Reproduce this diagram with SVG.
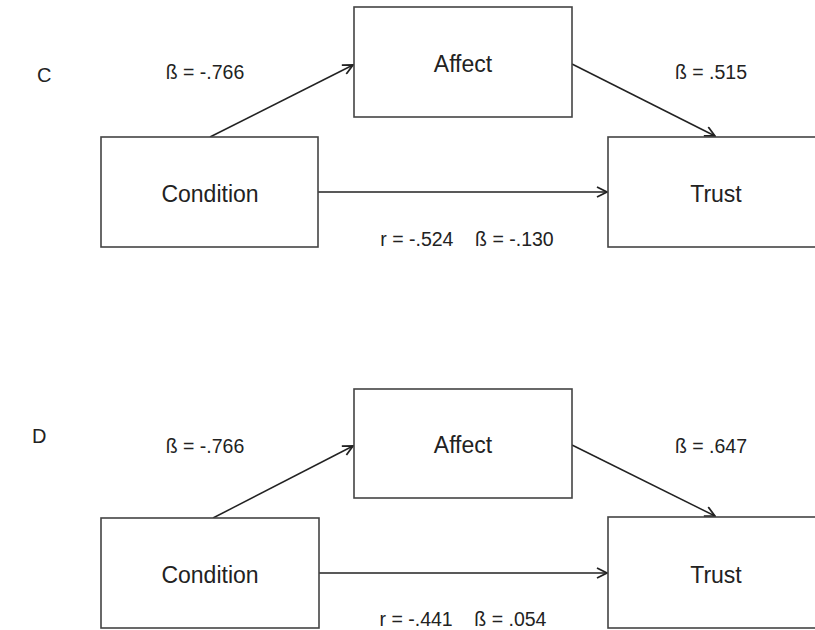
<svg xmlns="http://www.w3.org/2000/svg" width="815" height="630" viewBox="0 0 815 630">
<defs>
<marker id="ah" viewBox="0 0 12 12" refX="11" refY="6" markerWidth="12" markerHeight="12" markerUnits="userSpaceOnUse" orient="auto">
<path d="M1,1 L11,6 L1,11" fill="none" stroke="#222" stroke-width="1.8"/>
</marker>
<style>
.box{fill:#fff;stroke:#444;stroke-width:1.6}
.lbl{font-family:"Liberation Sans",Arial,sans-serif;font-size:23px;fill:#222;text-anchor:middle}
.coef{font-family:"Liberation Sans",Arial,sans-serif;font-size:19.5px;fill:#222;text-anchor:middle}
.panel{font-family:"Liberation Sans",Arial,sans-serif;font-size:20px;fill:#222}
.edge{stroke:#222;stroke-width:1.5;fill:none;marker-end:url(#ah)}
</style>
</defs>
<rect width="815" height="630" fill="#fff"/>
<text class="panel" x="37" y="82">C</text>
<text class="panel" x="32" y="443">D</text>
<g id="connectors">
<line class="edge" x1="210" y1="137" x2="353" y2="65"/>
<line class="edge" x1="572" y1="64" x2="715" y2="136"/>
<line class="edge" x1="318" y1="192" x2="607" y2="192"/>
<line class="edge" x1="213" y1="518" x2="353" y2="446"/>
<line class="edge" x1="572" y1="445" x2="715" y2="516"/>
<line class="edge" x1="319" y1="573" x2="607" y2="573"/>
</g>
<g id="condition-c"><rect class="box" x="101" y="137" width="217" height="110"/><text class="lbl" x="210" y="202">Condition</text></g>
<g id="affect-c"><rect class="box" x="354" y="7" width="218" height="110"/><text class="lbl" x="463" y="72">Affect</text></g>
<g id="trust-c"><rect class="box" x="608" y="137" width="240" height="110"/><text class="lbl" x="716" y="202">Trust</text></g>
<g id="condition-d"><rect class="box" x="101" y="518" width="218" height="110"/><text class="lbl" x="210" y="583">Condition</text></g>
<g id="affect-d"><rect class="box" x="354" y="389" width="218" height="109"/><text class="lbl" x="463" y="453">Affect</text></g>
<g id="trust-d"><rect class="box" x="608" y="517" width="240" height="111"/><text class="lbl" x="716" y="583">Trust</text></g>
<g id="labels">
<text class="coef" x="205" y="79">ß = -.766</text>
<text class="coef" x="711" y="79">ß = .515</text>
<text class="coef" x="467" y="246" xml:space="preserve">r = -.524    ß = -.130</text>
<text class="coef" x="205" y="453">ß = -.766</text>
<text class="coef" x="711" y="453">ß = .647</text>
<text class="coef" x="463" y="626" xml:space="preserve">r = -.441    ß = .054</text>
</g>
</svg>
